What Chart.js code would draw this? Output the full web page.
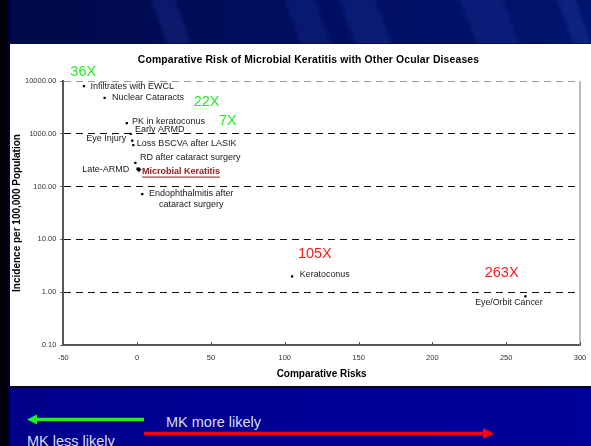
<!DOCTYPE html>
<html>
<head>
<meta charset="utf-8">
<script src="https://cdn.jsdelivr.net/npm/chart.js@4.4.1/dist/chart.umd.min.js"></script>
<style>
  html, body { margin: 0; padding: 0; }
  body {
    width: 591px; height: 446px; overflow: hidden; position: relative;
    background: #000090;
    font-family: "Liberation Sans", Arial, sans-serif;
  }
  #banner {
    position: absolute; left: 0; top: 0; width: 591px; height: 43px;
    background:
      linear-gradient(70deg,
        transparent 0 27%, rgba(30,50,150,.35) 28% 31%, transparent 32% 49%,
        rgba(30,50,150,.30) 50% 54%, transparent 55% 58%, rgba(30,50,150,.35) 59% 64%,
        transparent 65% 78%, rgba(30,50,150,.35) 79% 85%, transparent 86% 94%,
        rgba(30,50,150,.45) 95% 97%, transparent 98%),
      linear-gradient(90deg, #000a48, #000e62 55%, #00146e);
  }
  #lower {
    position: absolute; left: 0; top: 386px; width: 591px; height: 60px;
    background: linear-gradient(90deg, #00008a, #000096 50%, #00009a);
    border-top: 2px solid #05051a;
  }
  #edge { position: absolute; left: 0; top: 0; width: 7px; height: 446px; background: #02020c; }
  #edge2 { position: absolute; left: 7px; top: 0; width: 3px; height: 446px; background: #000038; }
  #box {
    position: absolute; left: 10px; top: 43px; width: 581px; height: 343px;
    background: #ffffff; border-top: 1px solid #101030; box-sizing: border-box;
  }
  #arrows { position: absolute; left: 0; top: 386px; }
  .note { position: absolute; color: #dcdcf4; font-size: 14.5px; line-height: 16px; white-space: nowrap; }
</style>
</head>
<body>
<div id="banner"></div>
<div id="lower"></div>
<div id="edge"></div>
<div id="edge2"></div>
<div id="box"><canvas id="chart"></canvas></div>
<svg id="arrows" width="591" height="60" viewBox="0 386 591 60">
  <line x1="144" y1="419.5" x2="34" y2="419.5" stroke="#22f022" stroke-width="3.5"/>
  <polygon points="27,419.5 37,414.5 37,424.5" fill="#22f022"/>
  <line x1="144" y1="433.5" x2="485" y2="433.5" stroke="#ff0000" stroke-width="3.5"/>
  <polygon points="494,433.5 483,428 483,439" fill="#ff0000"/>
</svg>
<div class="note" style="left:166px; top:414px;">MK more likely</div>
<div class="note" style="left:27px; top:433px;">MK less likely</div>

<script>
// Ocular conditions, their risk relative to microbial keratitis, and incidence
const conditions = [
  'Infiltrates with EWCL', 'Nuclear Cataracts', 'PK in keratoconus', 'Early ARMD',
  'Eye Injury', 'Loss BSCVA after LASIK', 'RD after cataract surgery', 'Late-ARMD',
  'Microbial Keratitis', 'Endophthalmitis after cataract surgery', 'Keratoconus', 'Eye/Orbit Cancer'
];
const comparativeRisk = [-36, -22, -7, -4.4, -3.3, -2.6, -1.2, 0.3, 1.2, 3.5, 105, 263];
const incidencePer100k = [8000, 4800, 1600, 1000, 740, 610, 280, 220, 210, 72, 2, 0.83];

// Fold-difference callouts and the condition each belongs to
const foldLabels = ['36X', '22X', '7X', '105X', '263X'];
const foldOf = ['Infiltrates with EWCL', 'Nuclear Cataracts', 'PK in keratoconus', 'Keratoconus', 'Eye/Orbit Cancer'];

// Axis ticks
const xTickValues = [-50, 0, 50, 100, 150, 200, 250, 300];
const yTickValues = [0.1, 1, 10, 100, 1000, 10000];
const yTickLabels = ['0.10', '1.00', '10.00', '100.00', '1000.00', '10000.00'];

// Where each condition's label sits relative to its point (pixels)
const labelPlacement = {
  'Infiltrates with EWCL': { dx: 6.5, dy: 0, align: 'left' },
  'Nuclear Cataracts': { dx: 7.4, dy: 0, align: 'left' },
  'PK in keratoconus': { dx: 5.3, dy: -2, align: 'left' },
  'Early ARMD': { dx: 4.3, dy: -4, align: 'left' },
  'Eye Injury': { dx: -6, dy: -2.4, align: 'right' },
  'Loss BSCVA after LASIK': { dx: 3.4, dy: -1.7, align: 'left' },
  'RD after cataract surgery': { dx: 4.7, dy: -5, align: 'left' },
  'Late-ARMD': { dx: -8.4, dy: 0.5, align: 'right' },
  'Microbial Keratitis': { dx: 3, dy: 2, align: 'left', bold: true, color: '#8b1c1c', underline: true },
  'Endophthalmitis after cataract surgery': { dx: 49, dy: -1, align: 'center',
      lines: ['Endophthalmitis after', 'cataract surgery'] },
  'Keratoconus': { dx: 7.7, dy: -2, align: 'left', size: 8.9 },
  'Eye/Orbit Cancer': { dx: -16.5, dy: 6, align: 'center', size: 8.8 }
};
const foldPlacement = {
  '36X': { dx: -0.7, dy: -14, color: '#22ee22' },
  '22X': { dx: 102, dy: 4, color: '#22ee22' },
  '7X': { dx: 101, dy: -2.3, color: '#22ee22' },
  '105X': { dx: 22.7, dy: -22, color: '#ff1a1a' },
  '263X': { dx: -23.7, dy: -23, color: '#ff1a1a' }
};

const FONT = '"Liberation Sans", Arial, sans-serif';

const annotate = {
  id: 'annotate',
  afterDatasetsDraw(chart) {
    const { ctx } = chart;
    const meta = chart.getDatasetMeta(0);
    ctx.save();
    ctx.textBaseline = 'middle';
    conditions.forEach((name, i) => {
      const pt = meta.data[i];
      const p = labelPlacement[name];
      const size = p.size || 9;
      ctx.font = (p.bold ? 'bold ' : '') + size + 'px ' + FONT;
      ctx.fillStyle = p.color || '#1a1a1a';
      ctx.textAlign = p.align;
      const lines = p.lines || [name];
      lines.forEach((t, k) => {
        const x = pt.x + p.dx, y = pt.y + p.dy + k * 11.7;
        ctx.fillText(t, x, y);
        if (p.underline) {
          const w = ctx.measureText(t).width;
          ctx.strokeStyle = p.color;
          ctx.lineWidth = 1;
          ctx.beginPath();
          ctx.moveTo(x, y + 5.5);
          ctx.lineTo(x + w, y + 5.5);
          ctx.stroke();
        }
      });
    });
    // fold-difference callouts
    ctx.font = '14.5px ' + FONT;
    ctx.textAlign = 'center';
    foldLabels.forEach((lab, j) => {
      const pt = meta.data[conditions.indexOf(foldOf[j])];
      const p = foldPlacement[lab];
      ctx.fillStyle = p.color;
      ctx.fillText(lab, pt.x + p.dx, pt.y + p.dy);
    });
    ctx.restore();
  },
  afterDraw(chart) {
    const { ctx, chartArea, scales } = chart;
    ctx.save();
    // right frame line
    ctx.strokeStyle = '#a6a6a6';
    ctx.lineWidth = 1.5;
    ctx.beginPath();
    ctx.moveTo(chartArea.right, chartArea.top);
    ctx.lineTo(chartArea.right, chartArea.bottom);
    ctx.stroke();
    // small inward tick marks on the x axis
    ctx.strokeStyle = '#555';
    ctx.lineWidth = 1;
    xTickValues.forEach(v => {
      const x = Math.round(scales.x.getPixelForValue(v)) + 0.5;
      ctx.beginPath();
      ctx.moveTo(x, chartArea.bottom);
      ctx.lineTo(x, chartArea.bottom - 3);
      ctx.stroke();
    });
    // chart title
    ctx.fillStyle = '#000';
    ctx.font = 'bold 10.4px ' + FONT;
    if ('letterSpacing' in ctx) ctx.letterSpacing = '0.15px';
    ctx.textAlign = 'center';
    ctx.textBaseline = 'middle';
    ctx.fillText('Comparative Risk of Microbial Keratitis with Other Ocular Diseases', 298.5, 15.7);
    ctx.restore();
  }
};

new Chart(document.getElementById('chart'), {
  type: 'scatter',
  data: {
    datasets: [{
      data: conditions.map((c, i) => ({ x: comparativeRisk[i], y: incidencePer100k[i] })),
      backgroundColor: '#000',
      borderColor: '#000',
      pointStyle: ctx => conditions[ctx.dataIndex] === 'Microbial Keratitis' ? 'rectRot' : 'rect',
      pointRadius: ctx => conditions[ctx.dataIndex] === 'Microbial Keratitis' ? 2.6 : 1.6,
      borderWidth: 0
    }]
  },
  plugins: [annotate],
  options: {
    responsive: true,
    maintainAspectRatio: false,
    devicePixelRatio: 1,
    animation: false,
    layout: { padding: { top: 37, right: 11, bottom: 0, left: 0 } },
    plugins: { legend: { display: false }, tooltip: { enabled: false }, title: { display: false } },
    scales: {
      x: {
        type: 'linear',
        min: -50, max: 300,
        afterBuildTicks: s => { s.ticks = xTickValues.map(v => ({ value: v })); },
        afterFit: s => { s.height = 41; s.paddingLeft = 0; s.paddingRight = 0; },
        ticks: { font: { family: FONT, size: 7.5 }, color: '#333', padding: 8, maxRotation: 0 },
        grid: { drawOnChartArea: false, drawTicks: false },
        border: { color: '#585858', width: 2 },
        title: { display: true, text: 'Comparative Risks', color: '#000',
                 font: { family: FONT, size: 10, weight: 'bold' }, padding: { top: 0, bottom: 6 } }
      },
      y: {
        type: 'logarithmic',
        min: 0.1, max: 10000,
        afterBuildTicks: s => { s.ticks = yTickValues.map(v => ({ value: v })); },
        afterFit: s => { s.width = 53.3; },
        ticks: { font: { family: FONT, size: 7.5 }, color: '#333', padding: 4,
                 callback: v => yTickLabels[yTickValues.indexOf(v)] },
        grid: {
          color: ctx => (ctx.tick && ctx.tick.value === 10000) ? '#9a9a9a' : '#111',
          lineWidth: 1,
          drawTicks: true, tickLength: 3, tickColor: '#555', tickBorderDash: []
        },
        border: { color: '#585858', width: 2, dash: [7, 5] },
        title: { display: true, text: 'Incidence per 100,000 Population', color: '#000',
                 font: { family: FONT, size: 10, weight: 'bold' }, padding: { top: 1, bottom: 0 } }
      }
    }
  }
});
</script>
</body>
</html>
